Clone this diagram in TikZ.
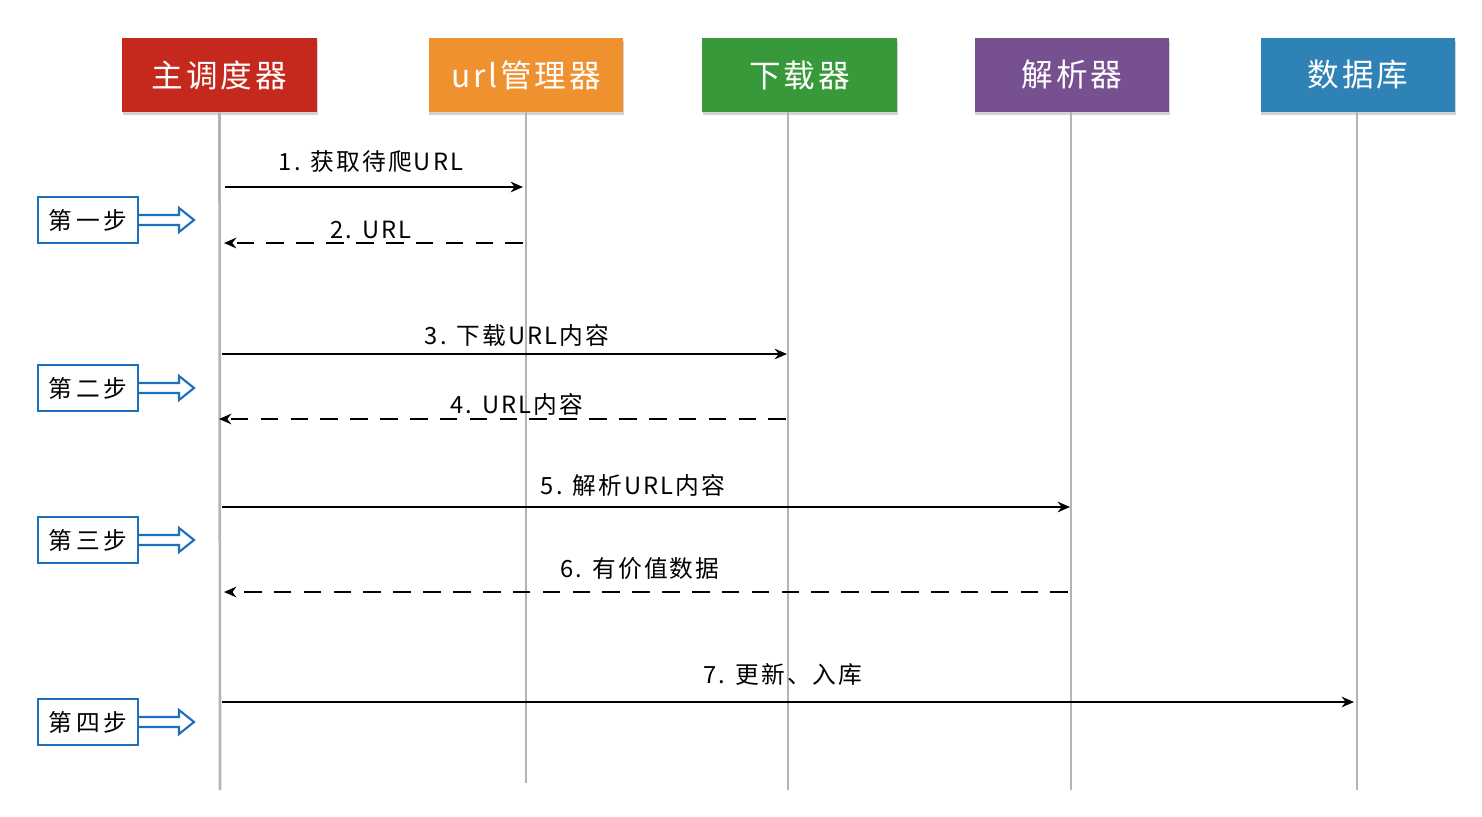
\documentclass[tikz,border=0pt]{standalone}
\usepackage{fontspec}
\setmainfont{Noto Sans CJK SC}
\usetikzlibrary{arrows.meta,shadows}

\definecolor{mainred}{HTML}{C5281C}
\definecolor{urlorange}{HTML}{F0912F}
\definecolor{dlgreen}{HTML}{37993A}
\definecolor{parsepurple}{HTML}{77508F}
\definecolor{dbblue}{HTML}{2F82B5}
\definecolor{lifegray}{HTML}{B4B4B4}
\definecolor{stepblue}{HTML}{1F6FC0}

\tikzset{
  actor/.style={minimum width=3.9cm, minimum height=1.48cm, text=white,
    font=\fontsize{18}{18}\selectfont\addfontfeature{LetterSpace=9},
    drop shadow={opacity=0.35, shadow xshift=0.5pt, shadow yshift=-1.5pt}},
  lifeline/.style={lifegray, line width=1.5pt},
  msg/.style={line width=1.4pt, -{Stealth[length=7pt,width=6pt]}},
  reply/.style={msg, dash pattern=on 10pt off 7pt},
  msglabel/.style={font=\fontsize{13.5}{13.5}\selectfont\addfontfeature{LetterSpace=9}},
  stepbox/.style={draw=stepblue, line width=1.2pt, minimum width=2cm, minimum height=0.92cm,
    font=\fontsize{13.5}{13.5}\selectfont\addfontfeature{LetterSpace=16}, fill=white},
  steparrow/.style={draw=stepblue, line width=1.2pt, fill=white, line join=miter}
}

\begin{document}
\begin{tikzpicture}[x=0.02cm, y=-0.02cm]
  \useasboundingbox (0,0) rectangle (1482,816);

  % actors
  \node[actor, fill=mainred] (sched) at (219.5,75) {主调度器};
  \node[actor, fill=urlorange] (urlmgr) at (526,75) {url管理器};
  \node[actor, fill=dlgreen] (down) at (799.5,75) {下载器};
  \node[actor, fill=parsepurple] (parse) at (1072,75) {解析器};
  \node[actor, fill=dbblue] (db) at (1358,75) {数据库};

  % lifelines
  \coordinate (schedEnd) at (220,790);
  \coordinate (urlEnd) at (526,783);
  \coordinate (downEnd) at (788,790);
  \coordinate (parseEnd) at (1071,790);
  \coordinate (dbEnd) at (1357,790);
  \draw[lifeline] (sched.south) -- (schedEnd);
  \draw[lifeline] (urlmgr.south) -- (urlEnd);
  \draw[lifeline] (down.south -| downEnd) -- (downEnd);
  \draw[lifeline] (parse.south -| parseEnd) -- (parseEnd);
  \draw[lifeline] (db.south -| dbEnd) -- (dbEnd);

  % step 1
  \coordinate (m1a) at (225,187);
  \coordinate (m1b) at (523,187);
  \draw[msg] (m1a) -- (m1b);
  \node[msglabel] (l1) at (371,162) {1. 获取待爬URL};
  \coordinate (m2a) at (523,243);
  \coordinate (m2b) at (224,243);
  \draw[reply] (m2a) -- (m2b);
  \node[msglabel] (l2) at (371,230) {2. URL};

  % step 2
  \coordinate (m3a) at (222,354);
  \coordinate (m3b) at (787,354);
  \draw[msg] (m3a) -- (m3b);
  \node[msglabel] (l3) at (517,335) {3. 下载URL内容};
  \coordinate (m4a) at (786,419);
  \coordinate (m4b) at (219,419);
  \draw[reply] (m4a) -- (m4b);
  \node[msglabel] (l4) at (517,404) {4. URL内容};

  % step 3
  \coordinate (m5a) at (222,507);
  \coordinate (m5b) at (1070,507);
  \draw[msg] (m5a) -- (m5b);
  \node[msglabel] (l5) at (633,485) {5. 解析URL内容};
  \coordinate (m6a) at (1068,592);
  \coordinate (m6b) at (224,592);
  \draw[reply] (m6a) -- (m6b);
  \node[msglabel] (l6) at (640,569) {6. 有价值数据};

  % step 4
  \coordinate (m7a) at (222,702);
  \coordinate (m7b) at (1354,702);
  \draw[msg] (m7a) -- (m7b);
  \node[msglabel] (l7) at (783,674) {7. 更新、入库};

  % step markers
  \node[stepbox] (s1) at (88,220) {第一步};
  \draw[steparrow] (s1.east) ++(0,-5) -- ++(40,0) -- ++(0,-7) -- ++(15,12) -- ++(-15,12) -- ++(0,-7) -- ++(-40,0);
  \node[stepbox] (s2) at (88,388) {第二步};
  \draw[steparrow] (s2.east) ++(0,-5) -- ++(40,0) -- ++(0,-7) -- ++(15,12) -- ++(-15,12) -- ++(0,-7) -- ++(-40,0);
  \node[stepbox] (s3) at (88,540) {第三步};
  \draw[steparrow] (s3.east) ++(0,-5) -- ++(40,0) -- ++(0,-7) -- ++(15,12) -- ++(-15,12) -- ++(0,-7) -- ++(-40,0);
  \node[stepbox] (s4) at (88,722) {第四步};
  \draw[steparrow] (s4.east) ++(0,-5) -- ++(40,0) -- ++(0,-7) -- ++(15,12) -- ++(-15,12) -- ++(0,-7) -- ++(-40,0);
\end{tikzpicture}
\end{document}
